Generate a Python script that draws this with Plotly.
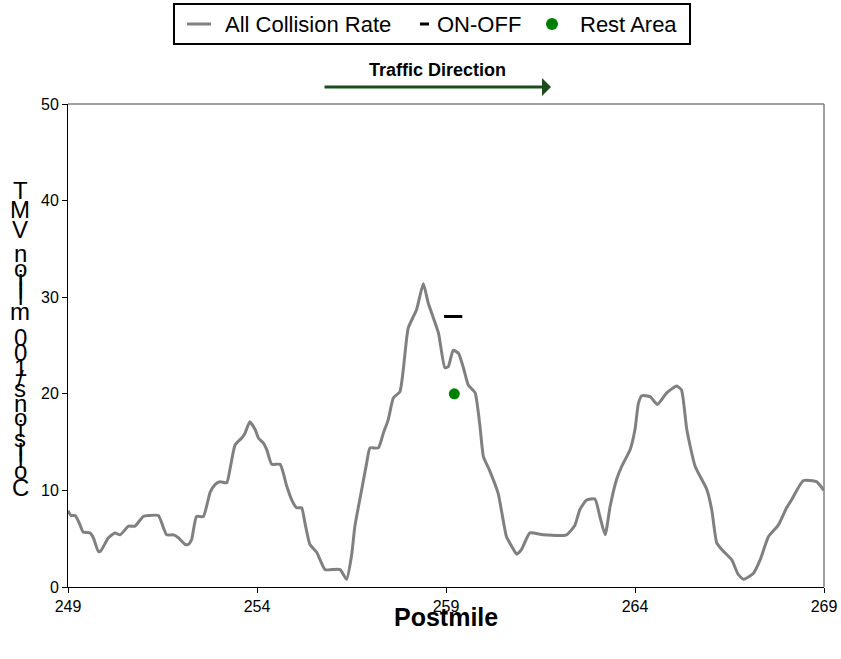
import plotly.graph_objects as go

# --- data ---
postmile = [249.00, 249.08, 249.19, 249.30, 249.40, 249.58, 249.67, 249.80, 249.86, 250.07,
            250.24, 250.38, 250.60, 250.77, 250.99, 251.13, 251.39, 251.61, 251.79, 251.92,
            252.10, 252.18, 252.27, 252.40, 252.58, 252.76, 252.89, 253.02, 253.20, 253.29,
            253.42, 253.59, 253.68, 253.81, 253.95, 254.04, 254.17, 254.26, 254.39, 254.61,
            254.79, 254.92, 255.05, 255.18, 255.27, 255.40, 255.58, 255.67, 255.80, 255.98,
            256.20, 256.37, 256.50, 256.59, 256.77, 256.90, 256.99, 257.21, 257.34, 257.47,
            257.61, 257.78, 257.87, 258.00, 258.22, 258.40, 258.53, 258.80, 258.97, 259.06,
            259.19, 259.33, 259.46, 259.59, 259.77, 259.90, 259.99, 260.16, 260.38, 260.60,
            260.74, 260.87, 261.00, 261.22, 261.57, 262.19, 262.41, 262.54, 262.72, 262.94,
            263.07, 263.21, 263.34, 263.51, 263.65, 263.87, 264.00, 264.09, 264.18, 264.40,
            264.59, 264.84, 265.10, 265.23, 265.37, 265.59, 265.90, 266.03, 266.16, 266.29,
            266.56, 266.73, 266.87, 267.13, 267.31, 267.53, 267.79, 268.01, 268.14, 268.45,
            268.80, 268.98, 269.00]
collision_rate = [7.9, 7.4, 7.4, 6.6, 5.7, 5.6, 5.1, 3.7, 3.7, 5.1,
                  5.6, 5.4, 6.3, 6.3, 7.3, 7.4, 7.4, 5.4, 5.4, 5.1,
                  4.4, 4.4, 4.9, 7.3, 7.3, 9.8, 10.6, 10.9, 10.8, 12.3,
                  14.7, 15.4, 15.9, 17.1, 16.3, 15.4, 14.9, 14.2, 12.7, 12.7,
                  10.4, 9.0, 8.2, 8.2, 6.6, 4.4, 3.6, 2.8, 1.8, 1.8,
                  1.8, 0.8, 3.2, 6.3, 10.1, 12.8, 14.4, 14.4, 15.9, 17.3,
                  19.6, 20.2, 22.5, 26.8, 28.7, 31.4, 29.4, 26.3, 22.7, 22.8,
                  24.5, 24.2, 22.7, 20.9, 20.1, 16.6, 13.5, 12.0, 9.7, 5.2,
                  4.2, 3.4, 3.9, 5.6, 5.4, 5.4, 6.4, 8.0, 9.0, 9.1,
                  7.3, 5.4, 8.3, 11.1, 12.5, 14.2, 16.3, 19.0, 19.8, 19.7,
                  18.9, 20.1, 20.8, 20.4, 16.3, 12.5, 10.1, 8.0, 4.6, 3.9,
                  2.8, 1.3, 0.8, 1.4, 2.8, 5.2, 6.4, 8.2, 9.0, 11.0,
                  10.9, 10.1, 10.0]

on_off_x = [259.19]
on_off_y = [28]
rest_x = [259.22]
rest_y = [20]

x_ticks = [249, 254, 259, 264, 269]
y_title = "Collisions/100 million VMT"
legend_names = ["All Collision Rate", "ON-OFF", "Rest Area"]

FONT = "Arial, Liberation Sans, sans-serif"
W, H = 841, 659
L, T, R, B = 68, 104, 17, 72
pw, ph = W - L - R, H - T - B


# pixel -> paper coords
def px_x(p):
    return (p - L) / pw


def px_y(p):
    return (H - B - p) / ph


fig = go.Figure()
fig.add_trace(go.Scatter(x=postmile, y=collision_rate, mode="lines", name=legend_names[0],
                         line=dict(color="#808080", width=3, shape="spline", smoothing=0.5)))
fig.add_trace(go.Scatter(x=on_off_x, y=on_off_y, mode="markers", name=legend_names[1],
                         marker=dict(symbol="line-ew", size=13, line=dict(color="black", width=3))))
fig.add_trace(go.Scatter(x=rest_x, y=rest_y, mode="markers", name=legend_names[2],
                         marker=dict(symbol="circle", size=11, color="#008000")))

# y title: glyphs drawn upright along a vertical run, read bottom to top
adv = {"C": .722, "o": .556, "l": .222, "i": .222, "s": .5, "n": .556, "/": .278,
       "1": .556, "0": .556, " ": .278, "m": .833, "V": .667, "M": .833, "T": .611}
scale = 26.9
pos = 181.8
annotations = []
for ch in reversed(y_title):
    w = adv[ch] * scale
    c = pos + w / 2
    pos += w
    if ch == " ":
        continue
    annotations.append(dict(x=px_x(20), y=px_y(c), xref="paper", yref="paper", text=ch,
                            showarrow=False, xanchor="center", yanchor="middle",
                            font=dict(family=FONT, size=24, color="black")))

annotations += [
    dict(x=px_x(437), y=px_y(70), xref="paper", yref="paper", text="<b>Traffic Direction</b>",
         showarrow=False, xanchor="center", yanchor="middle",
         font=dict(family=FONT, size=18, color="black")),
    dict(x=px_x(551), y=px_y(87), xref="paper", yref="paper", text="", showarrow=True,
         ax=-228, ay=0, arrowhead=1, arrowsize=1, arrowwidth=3, arrowcolor="#1B4D1B"),
    dict(x=px_x(446), y=px_y(617), xref="paper", yref="paper", text="<b>Postmile</b>",
         showarrow=False, xanchor="center", yanchor="middle",
         font=dict(family=FONT, size=25, color="black")),
]

# legend box drawn by hand to match the original spacing
leg_y = 24
for name, tx in zip(legend_names, [223, 435, 578]):
    annotations.append(dict(x=px_x(tx), y=px_y(leg_y), xref="paper", yref="paper", text=name,
                            showarrow=False, xanchor="left", yanchor="middle",
                            font=dict(family=FONT, size=22, color="black")))

shapes = [
    dict(type="line", xref="paper", yref="paper", x0=0, x1=1, y0=1, y1=1,
         line=dict(color="#808080", width=1.5)),
    dict(type="line", xref="paper", yref="paper", x0=1, x1=1, y0=0, y1=1,
         line=dict(color="#808080", width=1.5)),
    dict(type="rect", xref="paper", yref="paper", x0=px_x(174), x1=px_x(690),
         y0=px_y(44), y1=px_y(4), line=dict(color="black", width=2), fillcolor="white"),
    dict(type="line", xref="paper", yref="paper", x0=px_x(187), x1=px_x(211),
         y0=px_y(leg_y), y1=px_y(leg_y), line=dict(color="#808080", width=3)),
    dict(type="line", xref="paper", yref="paper", x0=px_x(420), x1=px_x(429),
         y0=px_y(leg_y), y1=px_y(leg_y), line=dict(color="black", width=3)),
    dict(type="circle", xref="paper", yref="paper", x0=px_x(546), x1=px_x(558),
         y0=px_y(leg_y + 6), y1=px_y(leg_y - 6), line=dict(width=0), fillcolor="#008000"),
]

fig.update_layout(
    width=W, height=H,
    margin=dict(l=L, r=R, t=T, b=B, autoexpand=False),
    paper_bgcolor="white", plot_bgcolor="white",
    font=dict(family=FONT, size=16, color="black"),
    showlegend=False,
    annotations=annotations,
    shapes=shapes,
)
fig.update_xaxes(range=[249, 269], tickvals=x_ticks, ticks="outside", ticklen=5,
                 tickcolor="black", showline=True, linecolor="black", linewidth=1,
                 showgrid=False, zeroline=False, tickfont=dict(size=16))
fig.update_yaxes(range=[0, 50], dtick=10, ticks="outside", ticklen=5,
                 tickcolor="black", showline=True, linecolor="black", linewidth=1,
                 showgrid=False, zeroline=False, tickfont=dict(size=16))

# drop the page's default body margin so the figure sits at the window's corner
fig.write_html("out.html", config={"displayModeBar": False},
               post_script="document.body.style.margin = '0';")
